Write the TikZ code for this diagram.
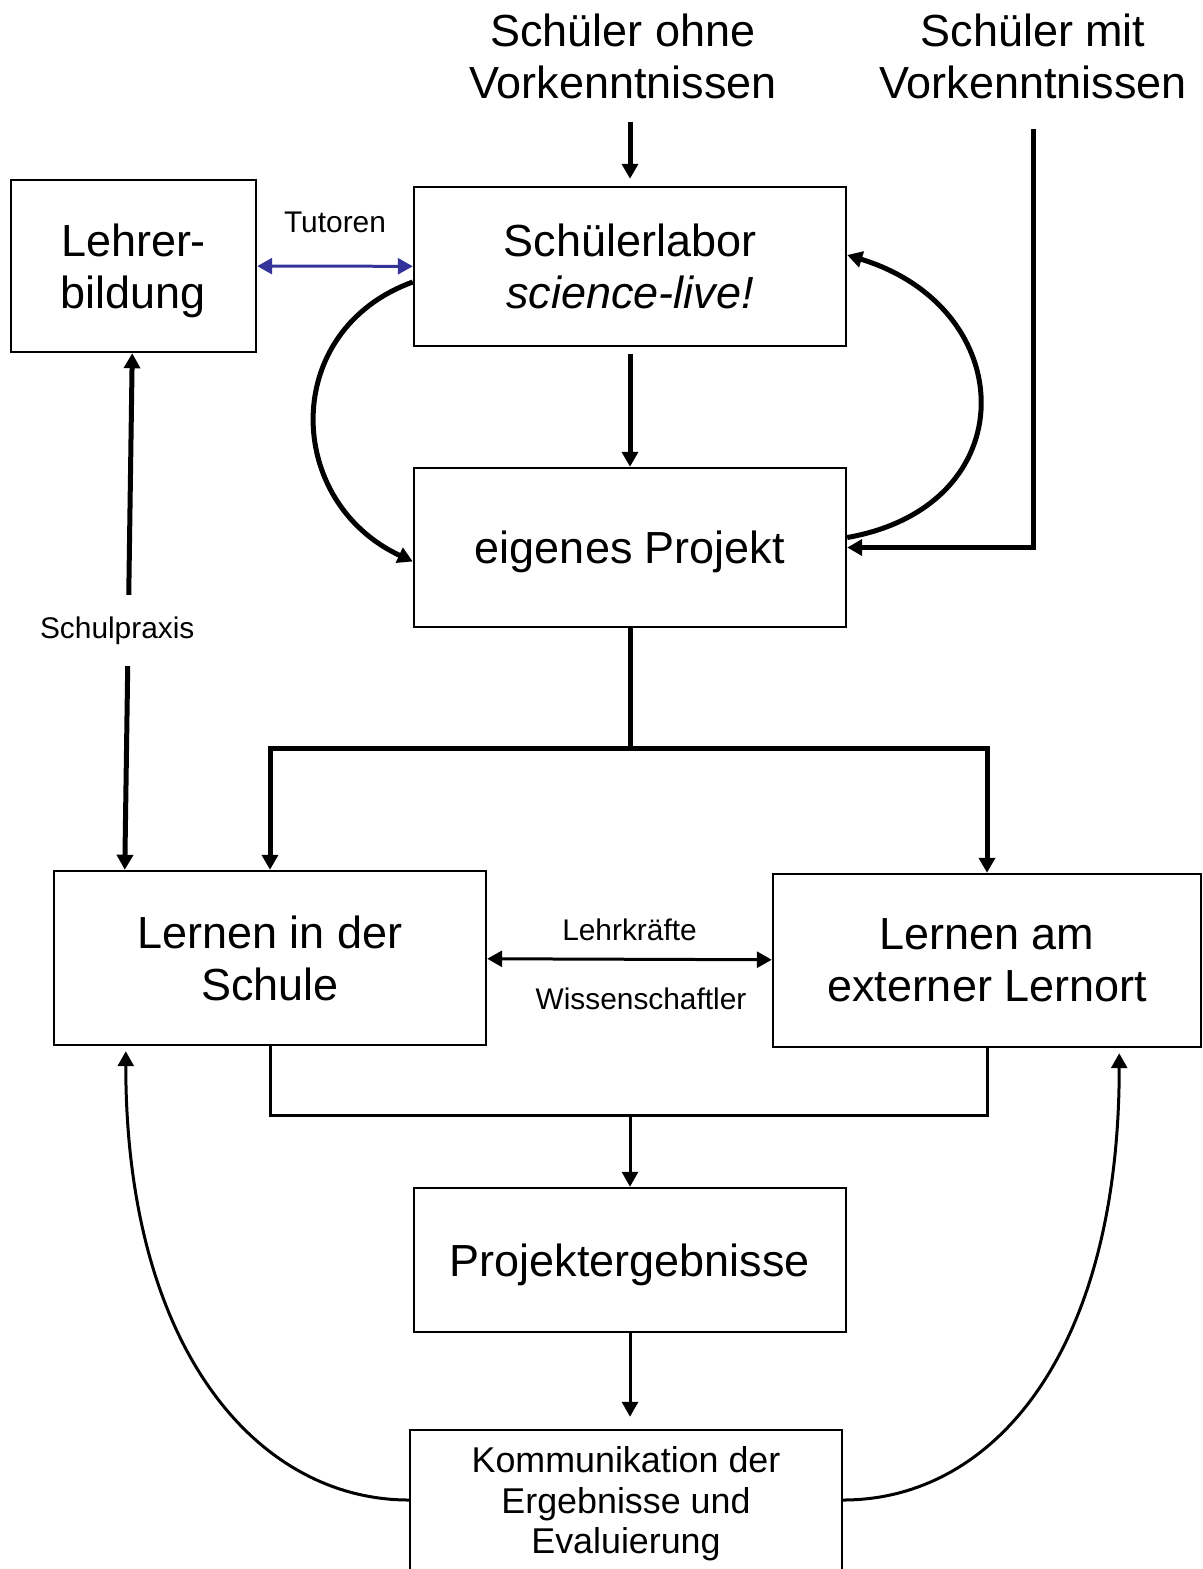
\documentclass[tikz,border=0pt]{standalone}
\usepackage{fontspec}
\setmainfont{Liberation Sans}
\usetikzlibrary{arrows.meta}
\definecolor{tutorblue}{RGB}{51,51,153}

\begin{document}
\begin{tikzpicture}[x=0.02cm, y=-0.02cm,
        >={Triangle[length=0.3cm,width=0.32cm]},
        box/.style={draw, line width=0.05cm, align=center, inner sep=0pt, font=\fontsize{25.6pt}{29.6pt}\selectfont},
        headtxt/.style={align=center, font=\fontsize{25.6pt}{29.6pt}\selectfont},
        lbl/.style={font=\fontsize{17pt}{20pt}\selectfont},
        heavy/.style={line width=0.1cm},
        light/.style={line width=0.06cm}]
        \useasboundingbox (0,0) rectangle (1203,1569);

        \node[headtxt] (ohne) at (623,56) {Schüler ohne\\Vorkenntnissen};
        \node[headtxt] (mit) at (1033,56) {Schüler mit\\Vorkenntnissen};
        \node[box, minimum width=4.9cm, minimum height=3.44cm, text depth=0pt] (lehrer) at (133.5,266) {Lehrer-\\bildung};
        \node[box, minimum width=8.64cm, minimum height=3.18cm] (labor) at (630,266.5) {Schülerlabor\\\textit{science-live!}};
        \node[box, minimum width=8.64cm, minimum height=3.18cm, text depth=0pt] (projekt) at (630,547.5) {eigenes Projekt};
        \node[box, minimum width=8.64cm, minimum height=3.48cm] (schule) at (270,958) {Lernen in der\\Schule};
        \node[box, minimum width=8.56cm, minimum height=3.46cm] (extern) at (987,960.5) {Lernen am\\externer Lernort};
        \node[box, minimum width=8.64cm, minimum height=2.88cm, text depth=0pt] (ergebnis) at (630,1260) {Projektergebnisse};
        \node[box, minimum width=8.64cm, minimum height=2.8cm, text depth=0pt, font=\fontsize{20.4pt}{23pt}\selectfont] (komm) at (626,1500) {Kommunikation der\\Ergebnisse und\\Evaluierung};

        \coordinate (split) at (630,748);
        \coordinate (merge) at (630,1115);

        \draw[heavy, ->, shorten <=0.34cm, shorten >=0.14cm] (labor.north |- ohne.south) -- (labor);
        \draw[heavy, ->, shorten <=0.14cm] (labor) -- (projekt);
        \draw[heavy, ->, shorten <=0.48cm] (mit.south) |- (projekt.east);
        \draw[heavy, ->] ([yshift=-0.31cm]labor.west) to[out=200, in=155, looseness=1.3] ([yshift=-0.28cm]projekt.west);
        \draw[heavy, ->] ([yshift=0.2cm]projekt.east) to[out=10, in=-17, looseness=1.65] ([yshift=0.23cm]labor.east);
        \draw[heavy] (projekt) -- (split);
        \draw[heavy, ->] (split) -| (schule);
        \draw[heavy, ->] (split) -| (extern);
        \draw[heavy, <->] (lehrer) -- node[lbl, fill=white, pos=0.537, inner ysep=0.43cm, xshift=-0.22cm] {Schulpraxis} ([xshift=1.44cm]schule.north west);

        \draw[light, tutorblue, <->] (lehrer) -- node[lbl, text=black, above=0.52cm] {Tutoren} (labor);
        \draw[light, <->] (schule) -- node[lbl, above=0.22cm] {Lehrkräfte} node[lbl, below=0.42cm, xshift=0.23cm] {Wissenschaftler} (extern);

        \draw[light] (schule) |- (merge) -| (extern);
        \draw[light, ->] (merge) -- (ergebnis);
        \draw[light, ->, shorten >=0.24cm] (ergebnis.south) -- (ergebnis.south |- komm.north);
        \draw[light, ->] (komm.west) to[out=180, in=-90, out distance=3cm, in distance=6cm] ([xshift=1.46cm, yshift=-0.1cm]schule.south west);
        \draw[light, ->] (komm.east) to[out=0, in=-90, out distance=3cm, in distance=6cm] ([xshift=-1.66cm, yshift=-0.1cm]extern.south east);
    \end{tikzpicture}
\end{document}
